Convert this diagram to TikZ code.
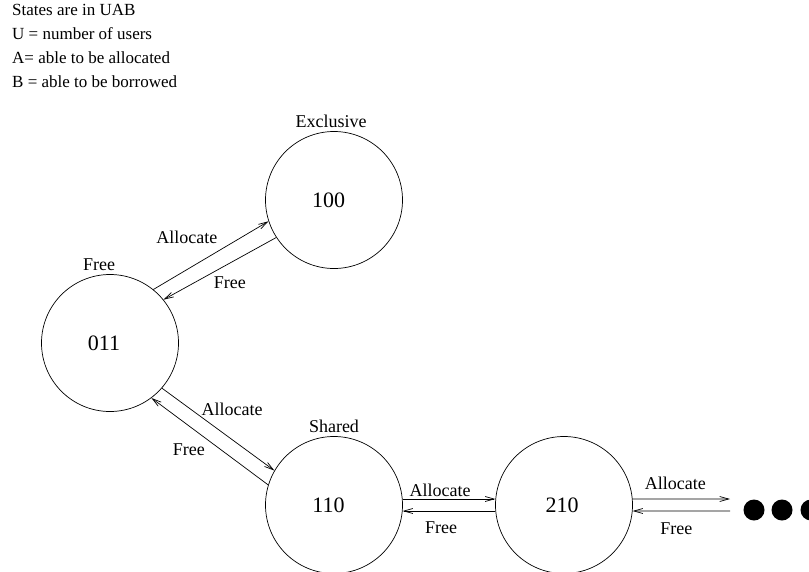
\documentclass[tikz,border=0pt]{standalone}
\usepackage{fontspec}
\setmainfont{Liberation Serif}
\usetikzlibrary{arrows.meta,positioning}

\tikzset{
  state/.style={draw,circle,minimum size=137pt,inner sep=0pt,line width=0.7pt,
                font=\fontsize{22}{26}\selectfont},
  tag/.style={font=\fontsize{18}{22}\selectfont},
  move/.style={-{Straight Barb[length=9pt,width=5pt]},line width=0.7pt},
}

\begin{document}
\begin{tikzpicture}[x=1pt,y=-1pt]
  \useasboundingbox (0,0) rectangle (809,571);
  \node[anchor=north west,align=left,inner sep=0pt,
        font=\fontsize{17}{24}\selectfont] (legend) at (12,4)
    {States are in UAB\\U = number of users\\A= able to be allocated\\B = able to be borrowed};

  \node[state,label={[tag,label distance=0pt,xshift=-3pt]above:Exclusive}] (s100) at (334,200) {100\kern11pt};
  \node[state,label={[tag,label distance=0pt,xshift=-11pt]above:Free}]     (s011) at (110,343) {011\kern12pt};
  \node[state,label={[tag,label distance=0pt]above:Shared}]                (s110) at (334,505) {110\kern11pt};
  \node[state] (s210) at (564,505) {210\kern4pt};
  \coordinate (more) at (730,505);

  \draw[move] (s011.51)  -- node[tag,xshift=-24pt,yshift=18pt]{Allocate} (s100.198);
  \draw[move] (s100.213) -- node[tag,xshift=10pt,yshift=-14pt]{Free} (s011.39);
  \draw[move] (s011.-41) -- node[tag,xshift=14pt,yshift=20pt]{Allocate} (s110.150);
  \draw[move] (s110.163) -- node[tag,xshift=-21pt,yshift=-8pt]{Free} (s011.-53);
  \draw[move] (s110.5)   -- node[tag,xshift=-9pt,yshift=9pt]{Allocate} (s210.175);
  \draw[move] (s210.-175) -- node[tag,xshift=-8pt,yshift=-17pt]{Free} (s110.-5);
  \draw[move] (s210.5) -- node[tag,xshift=-6pt,yshift=16pt]{Allocate} ([yshift=6pt]more);
  \draw[move] ([yshift=-6pt]more) -- node[tag,xshift=-5pt,yshift=-18pt]{Free} (s210.-5);

  \fill (754,510) circle (10.5pt) (782,510) circle (10.5pt) (811,510) circle (10.5pt);
\end{tikzpicture}
\end{document}
